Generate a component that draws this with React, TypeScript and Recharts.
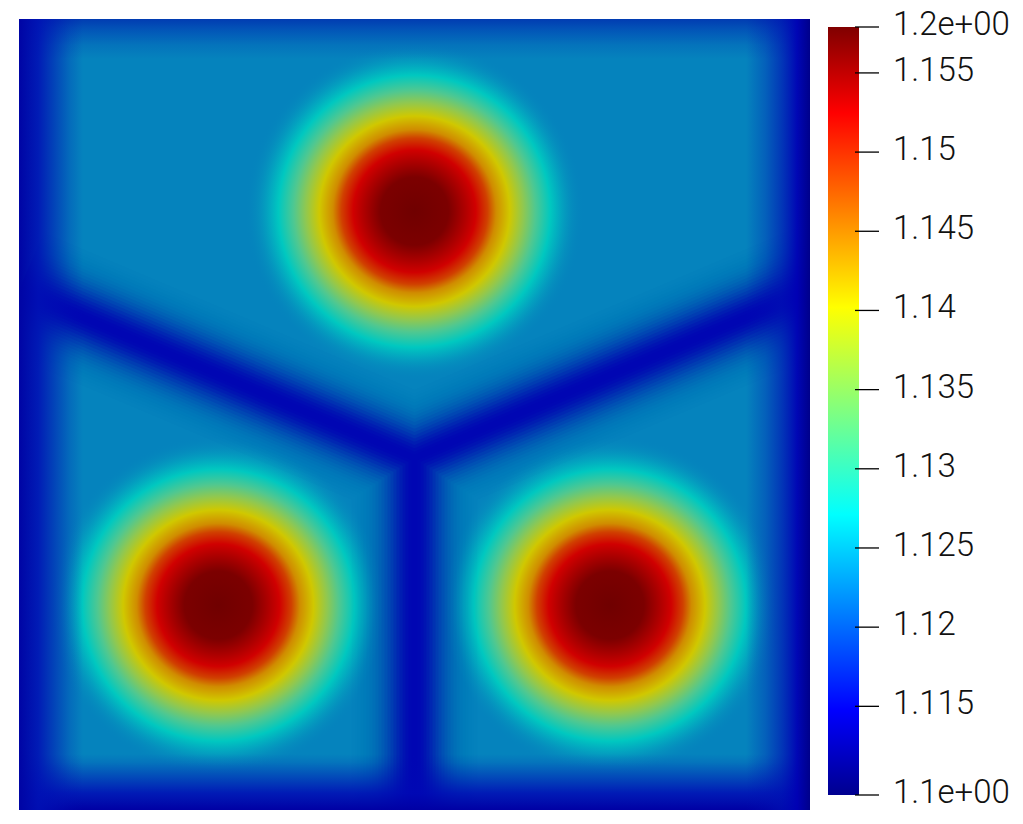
import React from 'react';
import {Bar, BarChart, ReferenceArea, Scatter, ScatterChart, XAxis, YAxis} from 'recharts';

// colour bar range and its tick values
const valueMin = 1.1094;
const valueMax = 1.1579;
const barTicks = [1.1094, 1.115, 1.12, 1.125, 1.13, 1.135, 1.14, 1.145, 1.15, 1.155, 1.1579];

// the three peaks of the field (unit square)
const peakX = [0.5, 0.252, 0.747];
const peakY = [0.757, 0.259, 0.259];

// low valleys between the peaks, walked as one path:
// left edge -> junction -> right edge -> junction -> bottom edge
const valleyX = [0, 0.5, 1, 0.5, 0.5];
const valleyY = [0.657, 0.445, 0.657, 0.445, 0];

const BASE = '#0583bd';
const VALLEY = '#0000b4';
const PEAK_RADIUS = 170;

// soft valley profile made of stacked translucent strokes
const VALLEY_LAYERS: [number, number][] = (() => {
    const cover = (d: number) => 0.94 * Math.exp(-((d / 29) ** 2));
    const out: [number, number][] = [];
    let prev = 1;
    for (let h = 63; h >= 3; h -= 3) {
        const t = 1 - cover(h - 1.5);
        out.push([h * 2, 1 - t / prev]);
        prev = t;
    }
    return out;
})();

const toPoints = (xs: number[], ys: number[]) => xs.map((x, i) => ({x, y: ys[i]}));

const peaks = toPoints(peakX, peakY);
const valley = toPoints(valleyX, valleyY);
const barData = [{name: 'value', range: [valueMin, valueMax]}];

const peakStops: [number, string, number][] = [
    [0, '#700000', 1],
    [0.2, '#7c0000', 1],
    [0.3, '#b00000', 1],
    [0.36, '#d00000', 1],
    [0.43, '#d04000', 1],
    [0.48, '#d08c00', 1],
    [0.56, '#d0c800', 1],
    [0.64, '#90c850', 1],
    [0.71, '#50c890', 1],
    [0.8, '#00c8c0', 1],
    [0.86, '#03aac0', 0.9],
    [0.92, '#0594be', 0.6],
    [0.97, '#0588bd', 0.25],
    [1, BASE, 0],
];

const jetStops: [number, string][] = [
    [0, '#00008f'],
    [0.111, '#0000ff'],
    [0.365, '#00ffff'],
    [0.5, '#80ff80'],
    [0.635, '#ffff00'],
    [0.888, '#ff0000'],
    [1, '#800000'],
];

// darker rim of the square
const edgeShades: {id: string; dir: number[]; stops: [number, string, number][]}[] = [
    {id: 'edgeL', dir: [0, 0, 1, 0], stops: [[0, '#0004a4', 1], [0.3, '#0010b4', 0.9], [0.55, '#0010b4', 0.55], [0.8, '#0010b4', 0.2], [1, '#0010b4', 0]]},
    {id: 'edgeR', dir: [1, 0, 0, 0], stops: [[0, '#00008a', 1], [0.2, '#0000b4', 0.95], [0.45, '#0010b4', 0.65], [0.7, '#0010b4', 0.3], [1, '#0010b4', 0]]},
    {id: 'edgeT', dir: [0, 0, 0, 1], stops: [[0, '#0034b0', 0.9], [0.3, '#0034b4', 0.55], [0.65, '#0034b4', 0.2], [1, '#0034b4', 0]]},
    {id: 'edgeB', dir: [0, 1, 0, 0], stops: [[0, '#0000a4', 1], [0.3, '#0008b4', 0.85], [0.6, '#0008b4', 0.45], [0.85, '#0008b4', 0.12], [1, '#0008b4', 0]]},
];

const FieldBackground = (props: any) => {
    const {x, y, width, height} = props;
    return (
        <g>
            <defs>
                <clipPath id='plotClip'>
                    <rect x={x} y={y} width={width} height={height} />
                </clipPath>
                <radialGradient id='peak'>
                    {peakStops.map(([o, c, op]) => (
                        <stop key={o} offset={o} stopColor={c} stopOpacity={op} />
                    ))}
                </radialGradient>
                {edgeShades.map((e) => (
                    <linearGradient key={e.id} id={e.id} x1={e.dir[0]} y1={e.dir[1]} x2={e.dir[2]} y2={e.dir[3]}>
                        {e.stops.map(([o, c, op]) => (
                            <stop key={o} offset={o} stopColor={c} stopOpacity={op} />
                        ))}
                    </linearGradient>
                ))}
            </defs>
            <rect x={x} y={y} width={width} height={height} fill={BASE} />
        </g>
    );
};

const FieldEdges = (props: any) => {
    const {x, y, width, height} = props;
    return (
        <g>
            <rect x={x} y={y} width={width} height={40} fill='url(#edgeT)' />
            <rect x={x} y={y + height - 56} width={width} height={56} fill='url(#edgeB)' />
            <rect x={x} y={y} width={64} height={height} fill='url(#edgeL)' />
            <rect x={x + width - 64} y={y} width={64} height={height} fill='url(#edgeR)' />
        </g>
    );
};

const ValleyLine = (props: any) => {
    const pts = props.points || [];
    if (pts.length < 2) return <g />;
    const d = pts.map((p: any, i: number) => `${i ? 'L' : 'M'}${p.x},${p.y}`).join(' ');
    return (
        <g clipPath='url(#plotClip)'>
            {VALLEY_LAYERS.map(([w, op]) => (
                <path key={w} d={d} fill='none' stroke={VALLEY} strokeWidth={w} strokeOpacity={op} strokeLinejoin='round' strokeLinecap='butt' />
            ))}
        </g>
    );
};

const PeakShape = (props: any) => <circle cx={props.cx} cy={props.cy} r={PEAK_RADIUS} fill='url(#peak)' />;

const formatTick = (v: number) =>
    v === valueMin || v === valueMax
        ? v.toExponential(1).replace(/e([+-])(\d)$/, (_m, s, d) => `e${s}0${d}`)
        : String(v);

const BarTick = (props: any) => {
    const {x, y, payload} = props;
    return (
        <g>
            <line x1={x - 38} x2={x - 14} y1={y} y2={y} stroke='#000' strokeWidth={1.3} />
            <text x={x} y={y} dy={8} fontSize={33} fontFamily='Roboto, sans-serif' fontWeight={300} fill='#111' textAnchor='start'>
                {formatTick(payload.value)}
            </text>
        </g>
    );
};

const ColorBarShape = (props: any) => (
    <g>
        <defs>
            <linearGradient id='jet' x1={0} y1={1} x2={0} y2={0}>
                {jetStops.map(([o, c]) => (
                    <stop key={o} offset={o} stopColor={c} />
                ))}
            </linearGradient>
        </defs>
        <rect x={props.x} y={props.y} width={props.width} height={props.height} fill='url(#jet)' />
    </g>
);

const App = () => {
    return (
        <div style={{position: 'absolute', left: 0, top: 0, width: 1023, height: 824, background: '#fff'}}>
            <div style={{position: 'absolute', left: 0, top: 0}}>
                <ScatterChart width={1023} height={824} margin={{top: 19, right: 213, bottom: 14, left: 19}}>
                    <XAxis type='number' dataKey='x' domain={[0, 1]} hide />
                    <YAxis type='number' dataKey='y' domain={[0, 1]} hide />
                    <ReferenceArea x1={0} x2={1} y1={0} y2={1} shape={FieldBackground} />
                    <Scatter data={peaks} shape={PeakShape} isAnimationActive={false} />
                    <Scatter data={valley} line={ValleyLine} shape={() => <g />} isAnimationActive={false} />
                    <ReferenceArea x1={0} x2={1} y1={0} y2={1} shape={FieldEdges} zIndex={650} />
                </ScatterChart>
            </div>
            <div style={{position: 'absolute', left: 828, top: 0}}>
                <BarChart width={195} height={824} data={barData} margin={{top: 27, right: 0, bottom: 29, left: 0}} barCategoryGap={0}>
                    <XAxis dataKey='name' hide />
                    <YAxis
                        orientation='right'
                        type='number'
                        domain={[valueMin, valueMax]}
                        ticks={barTicks}
                        width={164}
                        tickSize={0}
                        tickMargin={34}
                        axisLine={false}
                        tickLine={false}
                        tick={BarTick}
                        interval={0}
                    />
                    <Bar dataKey='range' shape={ColorBarShape} isAnimationActive={false} />
                </BarChart>
            </div>
        </div>
    );
};

export default App;
